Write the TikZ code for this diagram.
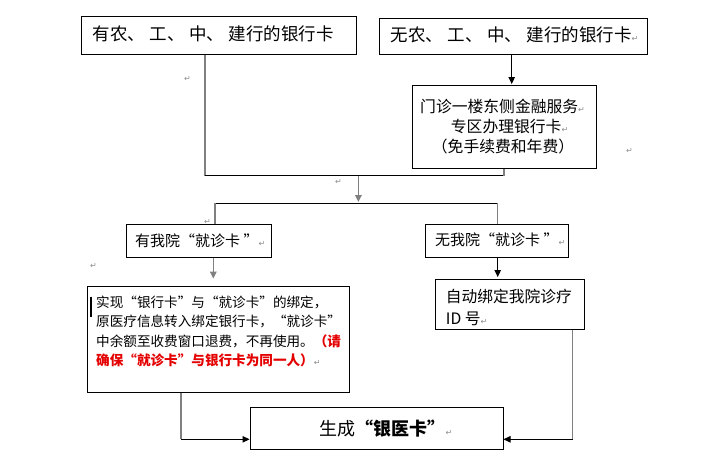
\documentclass[tikz,border=0pt]{standalone}
\usepackage{fontspec}
\setmainfont{Noto Sans CJK SC}
\newfontfamily\symf{DejaVu Sans}
\usetikzlibrary{arrows.meta}
\definecolor{lgray}{RGB}{128,128,128}
\definecolor{mred}{RGB}{228,0,0}
\newcommand{\setfs}[1]{\fontsize{#1pt}{#1pt}\selectfont}
\newcommand{\rt}{{\symf\fontsize{8}{8}\selectfont\color{black!45}↵}}
\newcommand{\dungap}{\hspace{0.25em}}
\tikzset{
  box/.style={draw=black, line width=1pt, inner sep=0pt},
  txt/.style={anchor=base west, inner sep=0pt},
  gline/.style={draw=lgray, line width=1.5pt},
  bline/.style={draw=black, line width=1pt},
  tip/.style={-{Triangle[length=7pt,width=6.5pt]}},
  garrow/.style={gline, tip},
  barrow/.style={bline, tip},
  cur/.style={draw=black, line width=2pt}
}
\begin{document}
\begin{tikzpicture}[x=1pt,y=-1pt]
\useasboundingbox (0,0) rectangle (725,464);
% boxes
\node[box, minimum width=275pt, minimum height=38pt] (b1) at (219.2,35) {};
\node[box, minimum width=268.3pt, minimum height=35.7pt] (b2) at (513.15,36.15) {};
\node[box, minimum width=183.7pt, minimum height=82.7pt] (b3) at (504.15,126.65) {};
\node[box, minimum width=145.7pt, minimum height=33pt] (b4) at (198.85,240.8) {};
\node[box, minimum width=142.6pt, minimum height=33pt] (b5) at (497,240.8) {};
\node[box, minimum width=262pt, minimum height=106pt] (b6) at (218.3,339) {};
\node[box, minimum width=148.6pt, minimum height=50pt] (b7) at (510,304.3) {};
\node[box, minimum width=253pt, minimum height=42pt] (b8) at (376.5,428.3) {};
% texts
\node[txt] (t1) at (92.7,40.6) {\setfs{17.5}有农、\dungap 工、\dungap 中、\dungap 建行的银行卡};
\node[txt] (t2) at (390.7,41.6) {\setfs{17.5}无农、\dungap 工、\dungap 中、\dungap 建行的银行卡\rt};
\node[txt] (t3a) at (420,112.7) {\setfs{15.8}门诊一楼东侧金融服务\rt};
\node[txt] (t3b) at (450.7,132.7) {\setfs{15.8}专区办理银行卡\rt};
\node[txt] (t3c) at (431.7,152.7) {\setfs{15.8}（免手续费和年费）};
\node[txt] (t4) at (135,246.4) {\setfs{15}有我院“就诊卡 ”\rt};
\node[txt] (t5) at (435,245.7) {\setfs{15}无我院“就诊卡 ”\rt};
\node[txt] (t6a) at (96,307.5) {\setfs{13.6}实现“银行卡”与“就诊卡”的绑定，};
\node[txt] (t6b) at (96,326.9) {\setfs{13.6}原医疗信息转入绑定银行卡，“就诊卡”};
\node[txt] (t6c) at (96,346.9) {\setfs{13.6}中余额至收费窗口退费，不再使用。{\bfseries\color{mred}（请}};
\node[txt] (t6d) at (96,365.9) {\setfs{13.6}{\bfseries\color{mred}确保“就诊卡”与银行卡为同一人）}\rt};
\node[txt] (t7a) at (445.7,302.7) {\setfs{15.75}自动绑定我院诊疗};
\node[txt] (t7b) at (445.7,324.3) {\setfs{15.75}ID 号\rt};
\node[txt] (t8) at (319.3,435.1) {\setfs{18}生成{\bfseries “银医卡”}\rt};
% stray paragraph marks
\node[txt] (r1) at (184,81) {\rt};
\node[txt] (r2) at (626,153) {\rt};
\node[txt] (r3) at (335,184.5) {\rt};
\node[txt] (r4) at (204,224.5) {\rt};
\node[txt] (r5) at (90,268) {\rt};
% cursor bar
\draw[cur] (91,296.7) -- (91,316.7);
% connectors
\coordinate (j0) at (205,175.7);
\coordinate (j1) at (504,175.7);
\draw[gline] (b1.south -| j0) -- (j0);
\draw[bline] (j0) -- (j1);
\draw[gline] (b3.south -| j1) -- (j1);
\coordinate (a1s) at (358.4,175.7);
\coordinate (a1e) at (358.4,202);
\draw[garrow] (a1s) -- (a1e);
\coordinate (j2) at (215,203.3);
\coordinate (j3) at (497.7,203.3);
\draw[bline] (j2) -- (j3);
\draw[gline] (j2) -- (b4.north -| j2);
\draw[gline] (j3) -- (b5.north -| j3);
\coordinate (e2) at (511.7,84);
\draw[barrow] (b2.south -| e2) -- (e2);
\coordinate (e4) at (213.3,278.5);
\draw[garrow] (b4.south -| e4) -- (e4);
\coordinate (e5) at (497.7,277);
\draw[barrow] (b5.south -| e5) -- (e5);
\coordinate (k6) at (181,439.3);
\draw[gline] (b6.south -| k6) -- (k6);
\draw[barrow] (k6) -- (b8.west |- k6);
\coordinate (k7) at (572.7,439.3);
\draw[gline] (b7.south -| k7) -- (k7);
\draw[barrow] (k7) -- (b8.east |- k7);
\end{tikzpicture}
\end{document}
